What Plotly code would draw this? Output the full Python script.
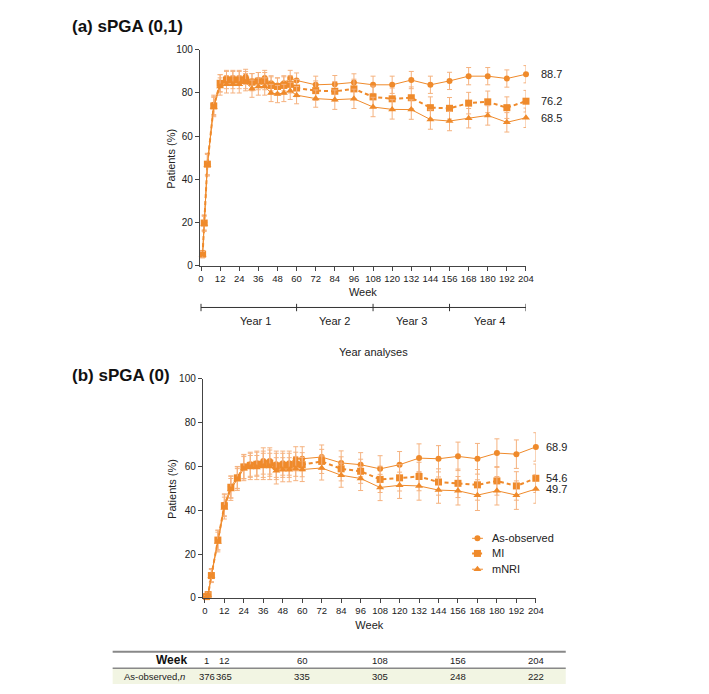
import plotly.graph_objects as go

W, H = 709, 694
OFF = 8  # page body margin offset
FW, FH = W - OFF, H - OFF

weeks = [1, 2, 4, 8, 12, 16, 20, 24, 28, 32, 36, 40, 44, 48, 52, 56, 60,
         72, 84, 96, 108, 120, 132, 144, 156, 168, 180, 192, 204]

# Panel (a) sPGA (0,1)
ao_a = [5.5, 20, 47, 74.5, 84.5, 87, 87, 87, 87.5, 85.5, 86, 87, 84.5, 83.5, 84.5, 87, 85.8,
        83.8, 84.1, 84.9, 83.8, 83.8, 86.0, 83.8, 85.6, 87.8, 87.8, 86.7, 88.7]
mi_a = [5.3, 19.7, 47, 74, 84.5, 86, 86, 86, 86, 85, 85.5, 85.5, 83.5, 83, 83.5, 84, 82.3,
        81.1, 80.8, 81.9, 78.2, 77.3, 77.8, 73.2, 72.9, 75.3, 75.9, 73.2, 76.2]
nri_a = [5.0, 19.3, 46.5, 73.5, 83, 84, 84, 84, 85, 82, 83, 83, 80, 79.5, 80, 81, 79,
         77.4, 76.9, 77.3, 73.5, 72.4, 72.3, 67.7, 67, 68.3, 69.6, 66.4, 68.5]
err_ao_a = [1.5, 3.5, 5, 4.5, 4, 3.5, 3.5, 3.5, 3.5, 3.5, 3.5, 3.5, 3.5, 3.5, 3.5, 3.5, 3.5,
            4, 4, 4, 4, 4, 4, 4, 4, 4, 4, 4, 4]
err_mi_a = [1.5, 3.5, 5, 4.5, 4, 4, 4, 4, 4, 4, 4, 4, 4, 4, 4, 4, 4,
            4.5, 4.5, 4.5, 5, 5, 5, 5, 5, 5, 5, 5, 5]
err_nri_a = [1.5, 3.5, 5, 4.5, 4, 4, 4, 4, 4, 4, 4, 4, 4, 4, 4, 4, 4,
             4, 4.5, 4.5, 4.5, 4.5, 4.5, 4.5, 4.5, 4.5, 4.5, 4.5, 4.5]

# Panel (b) sPGA (0)
ao_b = [0.6, 1.5, 10.4, 26.4, 42.5, 50.7, 55, 60, 61, 61.5, 62.5, 62.5, 61, 61.5, 61.5, 63.5, 63.5,
        64.3, 61.6, 60.8, 58.9, 60.8, 63.8, 63.5, 64.6, 63.5, 66.1, 65.6, 68.9]
mi_b = [0.6, 1.5, 10.2, 26.4, 42.1, 50.5, 54.8, 59.8, 60.5, 61, 61, 61.5, 60, 60.5, 60.5, 61, 60.8,
        62.3, 58.9, 57.8, 54.1, 54.8, 55.4, 52.9, 52.3, 51.6, 53.4, 51.1, 54.6]
nri_b = [0.5, 1.3, 10, 25.5, 41, 49.5, 54, 59, 59.5, 59.5, 60, 60, 58, 58.5, 58.5, 59, 58.6,
         59.3, 56, 54.5, 50.4, 51.4, 51.1, 49.2, 48.9, 46.9, 48.9, 46.9, 49.7]
err_b = [0.5, 1, 3, 4.5, 5, 5, 5, 5.5, 5.5, 5.5, 6, 6, 6, 5.5, 5.5, 5.5, 5.5,
         5.5, 5.5, 5.5, 6, 6, 6.5, 6, 6.5, 7, 6.5, 6.5, 6.5]

end_labels_a = ["88.7", "76.2", "68.5"]
end_labels_b = ["68.9", "54.6", "49.7"]
series_names = ["As-observed", "MI", "mNRI"]

year_edges = [0, 60, 108, 156, 204]
year_labels = ["Year 1", "Year 2", "Year 3", "Year 4"]
year_label_pos = [34, 84, 132, 181]

table_weeks = [1, 12, 60, 108, 156, 204]
table_n = [376, 365, 335, 305, 248, 222]

ORANGE = "#EF8A2B"
ERR = "#F5B27F"
TXT = "#222222"
FONT = "Liberation Sans, Arial, sans-serif"


def px(x):
    return (x - OFF) / FW


def py(y):
    return 1 - (y - OFF) / FH


fig = go.Figure()

styles = [
    dict(symbol="circle", size=6, dash="solid", width=1),
    dict(symbol="square", size=7, dash="4px,3px", width=2),
    dict(symbol="triangle-up", size=7, dash="solid", width=1),
]


def add_panel(xa, ya, series, errs):
    for (vals, err), st in zip(zip(series, errs), styles):
        fig.add_trace(go.Scatter(
            x=weeks, y=vals, xaxis=xa, yaxis=ya, mode="lines+markers",
            line=dict(color=ORANGE, width=st["width"], dash=st["dash"]),
            marker=dict(symbol=st["symbol"], size=st["size"], color=ORANGE),
            error_y=dict(type="data", array=err, color=ERR, thickness=1, width=2.5),
            cliponaxis=False, showlegend=False, hoverinfo="skip"))


add_panel("x", "y", [ao_a, mi_a, nri_a], [err_ao_a, err_mi_a, err_nri_a])
add_panel("x2", "y2", [ao_b, mi_b, nri_b], [err_b, err_b, err_b])

# manual legend inside panel (b)
leg_y = [27.2, 20.3, 13.1]
for st, yy in zip(styles, leg_y):
    fig.add_trace(go.Scatter(
        x=[164.7, 171.4], y=[yy, yy], xaxis="x2", yaxis="y2", mode="lines",
        line=dict(color=ORANGE, width=st["width"], dash="2px,2px" if st["width"] == 2 else "solid"),
        showlegend=False, hoverinfo="skip", cliponaxis=False))
    fig.add_trace(go.Scatter(
        x=[168], y=[yy], xaxis="x2", yaxis="y2", mode="markers",
        marker=dict(symbol=st["symbol"], size=st["size"], color=ORANGE),
        showlegend=False, hoverinfo="skip", cliponaxis=False))

axis_common = dict(showline=True, linecolor="#444", linewidth=1, ticks="outside", ticklen=4,
                   tickcolor="#444", showgrid=False, zeroline=False,
                   tickfont=dict(size=10, color=TXT, family=FONT))
xtick_font = dict(size=9.5, color=TXT, family=FONT)

xt = list(range(0, 205, 12))
fig.update_layout(
    width=FW, height=FH, autosize=False,
    margin=dict(l=0, r=0, t=0, b=0),
    paper_bgcolor="white", plot_bgcolor="white",
    font=dict(family=FONT, color=TXT),
    xaxis=dict(domain=[px(201.3), px(531.7)], range=[-0.75, 204], tickvals=xt, tickangle=0,
               title=dict(text="Week", font=dict(size=11, color=TXT), standoff=5), anchor="y",
               **{**axis_common, "tickfont": xtick_font}),
    yaxis=dict(domain=[py(264), py(44.5)], range=[0, 100], tickvals=list(range(0, 101, 20)),
               anchor="x", **axis_common),
    xaxis2=dict(domain=[px(204.3), px(541.7)], range=[-1.3, 204], tickvals=xt, tickangle=0,
                title=dict(text="Week", font=dict(size=11, color=TXT), standoff=5), anchor="y2",
                **{**axis_common, "tickfont": xtick_font}),
    yaxis2=dict(domain=[py(602.3), py(379.3)], range=[0, 100], tickvals=list(range(0, 101, 20)),
                anchor="x2", **axis_common),
)

shapes = []
annotations = []

# y-axis titles
for ycen in (155, 491):
    annotations.append(dict(text="Patients (%)", x=px(172.5), y=py(ycen), xref="paper", yref="paper",
                            xanchor="center", yanchor="middle", textangle=-90, showarrow=False,
                            font=dict(size=11, color=TXT)))

# titles
annotations.append(dict(text="<b>(a) sPGA (0,1)</b>", x=px(70), y=py(21), xref="paper", yref="paper",
                        xanchor="left", yanchor="middle", showarrow=False, font=dict(size=17, color="#111")))
annotations.append(dict(text="<b>(b) sPGA (0)</b>", x=px(70), y=py(376), xref="paper", yref="paper",
                        xanchor="left", yanchor="middle", showarrow=False, font=dict(size=17, color="#111")))

# end labels
for lab, series in zip(end_labels_a, [ao_a, mi_a, nri_a]):
    annotations.append(dict(text=lab, x=px(545), y=series[-1], xref="paper", yref="y",
                            xanchor="left", yanchor="middle", showarrow=False, font=dict(size=11, color=TXT)))
for lab, series in zip(end_labels_b, [ao_b, mi_b, nri_b]):
    annotations.append(dict(text=lab, x=px(550), y=series[-1], xref="paper", yref="y2",
                            xanchor="left", yanchor="middle", showarrow=False, font=dict(size=11, color=TXT)))

# legend text
for name, yy in zip(series_names, leg_y):
    annotations.append(dict(text=name, x=px(495), y=yy, xref="paper", yref="y2",
                            xanchor="left", yanchor="middle", showarrow=False, font=dict(size=11, color=TXT)))

# year bracket
yb = py(306.7)
shapes.append(dict(type="line", xref="x", yref="paper", x0=year_edges[0], x1=year_edges[-1], y0=yb, y1=yb,
                   line=dict(color="#333", width=1)))
for e in year_edges:
    shapes.append(dict(type="line", xref="x", yref="paper", x0=e, x1=e, y0=py(303), y1=py(310.5),
                       line=dict(color="#333", width=1)))
for lab, xpos in zip(year_labels, year_label_pos):
    annotations.append(dict(text=lab, x=xpos, y=py(320.5), xref="x", yref="paper", xanchor="center",
                            yanchor="middle", showarrow=False, font=dict(size=11, color=TXT)))
annotations.append(dict(text="Year analyses", x=px(377), y=py(352), xref="paper", yref="paper",
                        xanchor="center", yanchor="middle", showarrow=False, font=dict(size=11, color=TXT)))

# table
shapes.append(dict(type="rect", xref="paper", yref="paper", x0=px(113), x1=px(572), y0=py(690), y1=py(674),
                   fillcolor="#F2F5E3", line=dict(width=0), layer="below"))
shapes.append(dict(type="line", xref="paper", yref="paper", x0=px(113), x1=px(572), y0=py(657), y1=py(657),
                   line=dict(color="#888", width=2)))
shapes.append(dict(type="line", xref="paper", yref="paper", x0=px(113), x1=px(572), y0=py(674), y1=py(674),
                   line=dict(color="#888", width=1.5)))
annotations.append(dict(text="<b>Week</b>", x=px(190), y=py(666), xref="paper", yref="paper",
                        xanchor="right", yanchor="middle", showarrow=False, font=dict(size=12, color="#111")))
annotations.append(dict(text="As-observed,<i>n</i>", x=px(155), y=py(682), xref="paper", yref="paper",
                        xanchor="center", yanchor="middle", showarrow=False, font=dict(size=9.5, color=TXT)))
for wk, n in zip(table_weeks, table_n):
    annotations.append(dict(text=str(wk), x=wk, y=py(666), xref="x2", yref="paper",
                            xanchor="center", yanchor="middle", showarrow=False, font=dict(size=9.5, color=TXT)))
    annotations.append(dict(text=str(n), x=wk, y=py(682), xref="x2", yref="paper",
                            xanchor="center", yanchor="middle", showarrow=False, font=dict(size=9.5, color=TXT)))

fig.update_layout(shapes=shapes, annotations=annotations)
fig.write_html("out.html")
